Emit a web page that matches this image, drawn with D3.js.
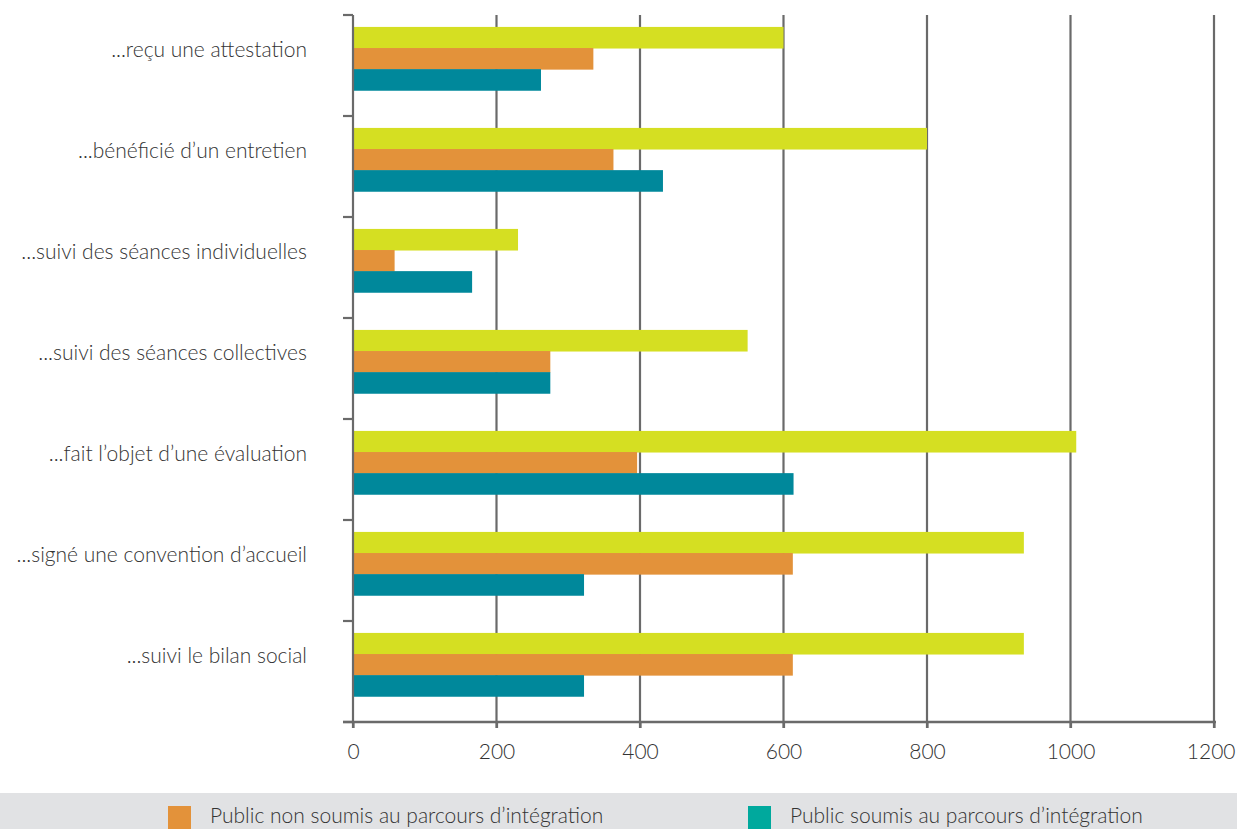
<!DOCTYPE html>
<html>
<head>
<meta charset="utf-8">
<script src="https://cdn.jsdelivr.net/npm/d3@7"></script>
<style>
  html, body { margin: 0; padding: 0; background: #fff; }
  svg { display: block; }
  text { font-family: Lato, "Open Sans", sans-serif; font-weight: 300; fill: #333; }
</style>
</head>
<body>
<svg id="chart" width="1237" height="829"></svg>
<script>
// Categories, top to bottom
const categories = [
  "...reçu une attestation",
  "...bénéficié d\u2019un entretien",
  "...suivi des séances individuelles",
  "...suivi des séances collectives",
  "...fait l\u2019objet d\u2019une évaluation",
  "...signé une convention d\u2019accueil",
  "...suivi le bilan social"
];

// Series values (same order as categories)
const totalValues   = [600, 800, 230, 550, 1008, 935, 935];
const nonSoumis     = [335, 363, 58, 275, 396, 613, 613];
const soumis        = [262, 432, 166, 275, 614, 322, 322];

const seriesNames  = ["Ensemble", "Public non soumis au parcours d\u2019intégration", "Public soumis au parcours d\u2019intégration"];
const seriesColors = ["#d5df22", "#e3923a", "#00889b"];
const legendColors = ["#e3923a", "#00a99d"];
const legendNames  = [seriesNames[1], seriesNames[2]];

const xTicks = [0, 200, 400, 600, 800, 1000, 1200];

const svg = d3.select("#chart");
const plotLeft = 353, plotRight = 1214, plotTop = 15, plotBottom = 722;

const x = d3.scaleLinear().domain([0, 1200]).range([plotLeft, plotRight]);
const y = d3.scaleBand().domain(categories).range([plotTop, plotBottom]).padding(0);
const bw = y.bandwidth();
const inner = d3.scaleBand().domain([0, 1, 2]).range([bw * 0.118, bw * 0.745]).padding(0);

// Vertical grid lines
svg.append("g")
  .selectAll("line")
  .data(xTicks.slice(1))
  .join("line")
  .attr("x1", d => x(d)).attr("x2", d => x(d))
  .attr("y1", plotTop).attr("y2", plotBottom + 6)
  .attr("stroke", "#6a6a6a").attr("stroke-width", 2.2);

// Bars
const series = [totalValues, nonSoumis, soumis];
const groups = svg.append("g")
  .selectAll("g")
  .data(categories)
  .join("g")
  .attr("transform", d => `translate(0,${y(d)})`);

groups.selectAll("rect")
  .data((d, i) => series.map((s, k) => ({ k, v: s[i] })))
  .join("rect")
  .attr("x", x(0))
  .attr("y", d => inner(d.k))
  .attr("width", d => x(d.v) - x(0))
  .attr("height", inner.bandwidth() + 0.5)
  .attr("fill", d => seriesColors[d.k]);

// Y axis with ticks at band boundaries
const yEdges = categories.map(c => y(c)).concat([plotBottom]);
svg.append("line")
  .attr("x1", plotLeft).attr("x2", plotLeft).attr("y1", plotTop).attr("y2", plotBottom + 6)
  .attr("stroke", "#6a6a6a").attr("stroke-width", 2.2);
svg.append("g")
  .selectAll("line")
  .data(yEdges)
  .join("line")
  .attr("x1", plotLeft - 10).attr("x2", plotLeft)
  .attr("y1", d => d).attr("y2", d => d)
  .attr("stroke", "#6a6a6a").attr("stroke-width", 2.2);

// X axis
const xAxis = svg.append("g")
  .attr("transform", `translate(0,${plotBottom})`)
  .call(d3.axisBottom(x).tickValues(xTicks).tickFormat(d3.format("d"))
    .tickSize(6).tickSizeOuter(0).tickPadding(16));
xAxis.select(".domain").attr("stroke", "#6a6a6a").attr("stroke-width", 2.6)
  .attr("d", `M${plotLeft - 10},0H${plotRight + 2}`);
xAxis.selectAll(".tick line").attr("stroke", "#6a6a6a").attr("stroke-width", 2.2);
xAxis.selectAll(".tick text")
  .style("font-family", "Lato, sans-serif").style("font-weight", 300)
  .style("font-size", "21px").attr("fill", "#333");
// keep the last tick label inside the frame
xAxis.selectAll(".tick text").filter(d => d === 1200).attr("text-anchor", "end").attr("dx", 21);

// Category labels
svg.append("g")
  .selectAll("text")
  .data(categories)
  .join("text")
  .attr("x", 307)
  .attr("y", d => y(d) + bw * 0.42)
  .attr("text-anchor", "end")
  .style("font-size", "21px")
  .text(d => d);

// Legend strip
svg.append("rect")
  .attr("x", 0).attr("y", 793).attr("width", 1237).attr("height", 36)
  .attr("fill", "#e1e2e4");
const legendX = [168, 748];
const leg = svg.append("g")
  .selectAll("g")
  .data(legendNames)
  .join("g")
  .attr("transform", (d, i) => `translate(${legendX[i]},806)`);
leg.append("rect").attr("width", 23).attr("height", 23).attr("fill", (d, i) => legendColors[i]);
leg.append("text").attr("x", 42).attr("y", 17)
  .style("font-size", "21px")
  .text(d => d);
</script>
</body>
</html>
